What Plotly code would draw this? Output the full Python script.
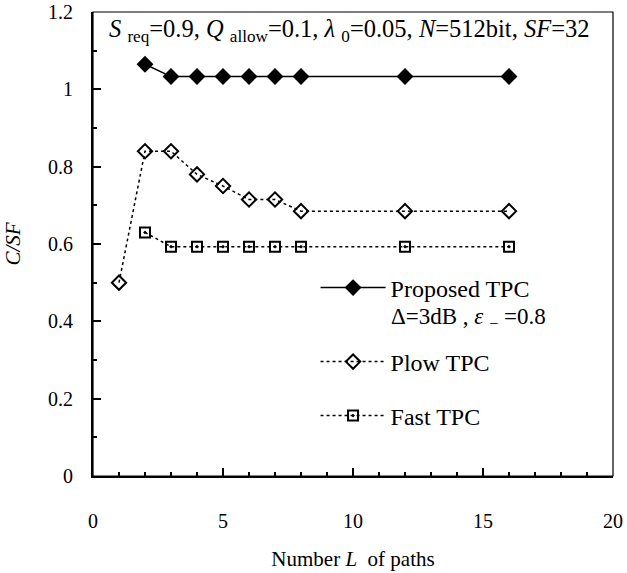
import plotly.graph_objects as go

L_prop = [2, 3, 4, 5, 6, 7, 8, 12, 16]
cs_prop = [1.065, 1.033, 1.033, 1.033, 1.033, 1.033, 1.033, 1.033, 1.033]
L_plow = [1, 2, 3, 4, 5, 6, 7, 8, 12, 16]
cs_plow = [0.50, 0.84, 0.84, 0.78, 0.75, 0.715, 0.715, 0.685, 0.685, 0.685]
L_fast = [2, 3, 4, 5, 6, 7, 8, 12, 16]
cs_fast = [0.63, 0.593, 0.593, 0.593, 0.593, 0.593, 0.593, 0.593, 0.593]

names = ["Proposed TPC", "Plow TPC", "Fast TPC"]
x_ticks = [0, 5, 10, 15, 20]
y_ticks = [0, 0.2, 0.4, 0.6, 0.8, 1, 1.2]

FONT = "Liberation Serif"

fig = go.Figure()
fig.add_trace(go.Scatter(
    x=L_prop, y=cs_prop, name=names[0], mode="lines+markers", showlegend=True,
    line=dict(color="black", width=1.5),
    marker=dict(symbol="diamond", size=13, color="black"),
    legend="legend"))
fig.add_trace(go.Scatter(
    x=L_plow, y=cs_plow, name=names[1], mode="lines+markers", showlegend=True,
    line=dict(color="black", width=1.5, dash="3px,3px"),
    marker=dict(symbol="diamond-open", size=11, color="black", line=dict(width=2)),
    legend="legend2"))
fig.add_trace(go.Scatter(
    x=L_fast, y=cs_fast, name=names[2], mode="lines+markers", showlegend=True,
    line=dict(color="black", width=1.5, dash="3px,3px"),
    marker=dict(symbol="square-open-dot", size=10, color="black", line=dict(width=2)),
    legend="legend3"))

leg_common = dict(font=dict(family=FONT, size=24, color="black"), bgcolor="rgba(0,0,0,0)",
                  itemwidth=65, xanchor="left", yanchor="middle", borderwidth=0)

fig.update_layout(
    width=627, height=573,
    showlegend=True,
    margin=dict(l=93, r=14, t=12, b=97, autoexpand=False),
    plot_bgcolor="white", paper_bgcolor="white",
    font=dict(family=FONT, size=20, color="black"),
    legend=dict(x=0.428, y=(476 - 288) / 464, **leg_common),
    legend2=dict(x=0.428, y=(476 - 362) / 464, **leg_common),
    legend3=dict(x=0.428, y=(476 - 416) / 464, **leg_common),
    xaxis=dict(range=[0, 20], tickvals=x_ticks, ticktext=[str(v) for v in x_ticks],
               showgrid=False, zeroline=False, showline=True, linecolor="black", linewidth=2,
               ticks="inside", ticklen=8, tickwidth=1.5, tickcolor="black",
               minor=dict(ticks="inside", ticklen=4, dtick=1, tickwidth=1.5, tickcolor="black", showgrid=False),
               ticklabelstandoff=26, ticklabeloverflow="allow", automargin=False,
               title=dict(text="Number <i>L</i>  of paths", font=dict(family=FONT, size=21), standoff=20)),
    yaxis=dict(range=[0, 1.2], tickvals=y_ticks, ticktext=["0", "0.2", "0.4", "0.6", "0.8", "1", "1.2"],
               showgrid=False, zeroline=False, showline=True, linecolor="black", linewidth=2,
               ticks="inside", ticklen=8, tickwidth=1.5, tickcolor="black",
               minor=dict(ticks="inside", ticklen=4, dtick=0.1, tickwidth=1.5, tickcolor="black", showgrid=False),
               ticklabelstandoff=14, ticklabeloverflow="allow", automargin=False,
               title=dict(text="<i>C/SF</i>", font=dict(family=FONT, size=21), standoff=22)),
    shapes=[dict(type="rect", xref="paper", yref="paper", x0=0, y0=0, x1=1, y1=1,
                 line=dict(color="black", width=1.2))],
    annotations=[
        dict(xref="paper", yref="paper", x=0.027, y=(476 - 30) / 464, xanchor="left", yanchor="middle",
             showarrow=False, font=dict(family=FONT, size=24.5, color="black"),
             text="<i>S</i> <sub>req</sub>=0.9, <i>Q</i> <sub>allow</sub>=0.1, <i>λ</i> <sub>0</sub>=0.05, <i>N</i>=512bit, <i>SF</i>=32"),
        dict(xref="paper", yref="paper", x=(389 - 93) / 520, y=(476 - 318) / 464, xanchor="left", yanchor="middle",
             showarrow=False, font=dict(family=FONT, size=23, color="black"),
             text="Δ=3dB , <i>ε</i> <sub>−</sub> =0.8"),
    ],
)

fig.write_html("out.html", config={"displayModeBar": False},
               post_script="document.body.style.margin='0';document.body.style.padding='0';")
